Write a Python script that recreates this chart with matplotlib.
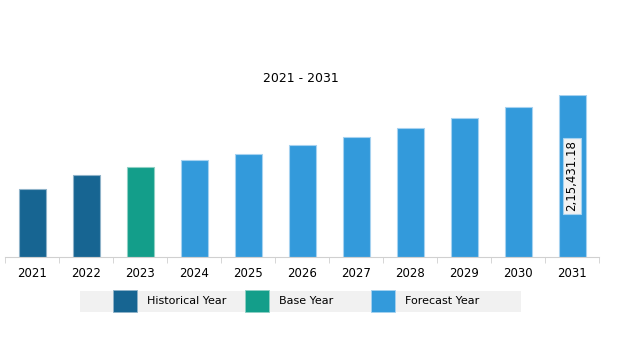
import matplotlib
matplotlib.use("Agg")
import matplotlib.pyplot as plt
from matplotlib.patches import Rectangle

# market size by year
years = ["2021", "2022", "2023", "2024", "2025", "2026",
         "2027", "2028", "2029", "2030", "2031"]
values = [91060, 109640, 119470, 128760, 137520, 148670,
          159290, 172030, 184910, 199110, 215431.18]
kinds = ["Historical Year", "Historical Year", "Base Year"] + ["Forecast Year"] * 8
last_label = "2,15,431.18"

colors = {"Historical Year": "#176592",
          "Base Year": "#139e8a",
          "Forecast Year": "#339adb"}
edges = {"Historical Year": "#8fb3c9",
         "Base Year": "#8fd0c4",
         "Forecast Year": "#a6d2f0"}

W, H = 621, 344
fig = plt.figure(figsize=(W / 100, H / 100), dpi=100)

# axes: baseline at y=257 px, tallest bar reaches y=95 px
ax = fig.add_axes([5 / W, (H - 257) / H, 594 / W, (257 - 95) / H])
x = range(len(years))
ax.bar(x, values, width=0.5,
       color=[colors[k] for k in kinds],
       edgecolor=[edges[k] for k in kinds], linewidth=0.8)
ax.set_xlim(-0.5, len(years) - 0.5)
ax.set_ylim(0, values[-1])

ax.set_xticks(list(x))
ax.set_xticklabels(years, fontsize=8.5)
ax.tick_params(axis="x", length=0, pad=7)
ax.set_xticks([i - 0.5 for i in range(len(years) + 1)], minor=True)
ax.tick_params(axis="x", which="minor", length=4, color="#d0d0d0")
ax.set_yticks([])
for s in ["top", "left", "right"]:
    ax.spines[s].set_visible(False)
ax.spines["bottom"].set_color("#d0d0d0")

# value on the last bar
ax.text(len(years) - 1, values[-1] / 2, last_label, rotation=90,
        ha="center", va="center", fontsize=8.5,
        bbox=dict(boxstyle="square,pad=0.2", fc="#f2f2f2", ec="#a6d2f0", lw=0.8))

fig.text(301 / W, 1 - 78 / H, "2021 - 2031", ha="center", va="center", fontsize=9)

# legend strip
fig.add_artist(Rectangle((80 / W, 1 - 312 / H), 441 / W, 21 / H,
                         transform=fig.transFigure, fc="#f1f1f1", ec="none"))
legend_items = ["Historical Year", "Base Year", "Forecast Year"]
swatch_x = [113, 245, 371]
for name, sx in zip(legend_items, swatch_x):
    fig.add_artist(Rectangle((sx / W, 1 - 312 / H), 24 / W, 22 / H,
                             transform=fig.transFigure,
                             fc=colors[name], ec=edges[name], lw=0.6))
    fig.text((sx + 34) / W, 1 - 301 / H, name, ha="left", va="center", fontsize=8)

fig.savefig("out.png", dpi=100)
